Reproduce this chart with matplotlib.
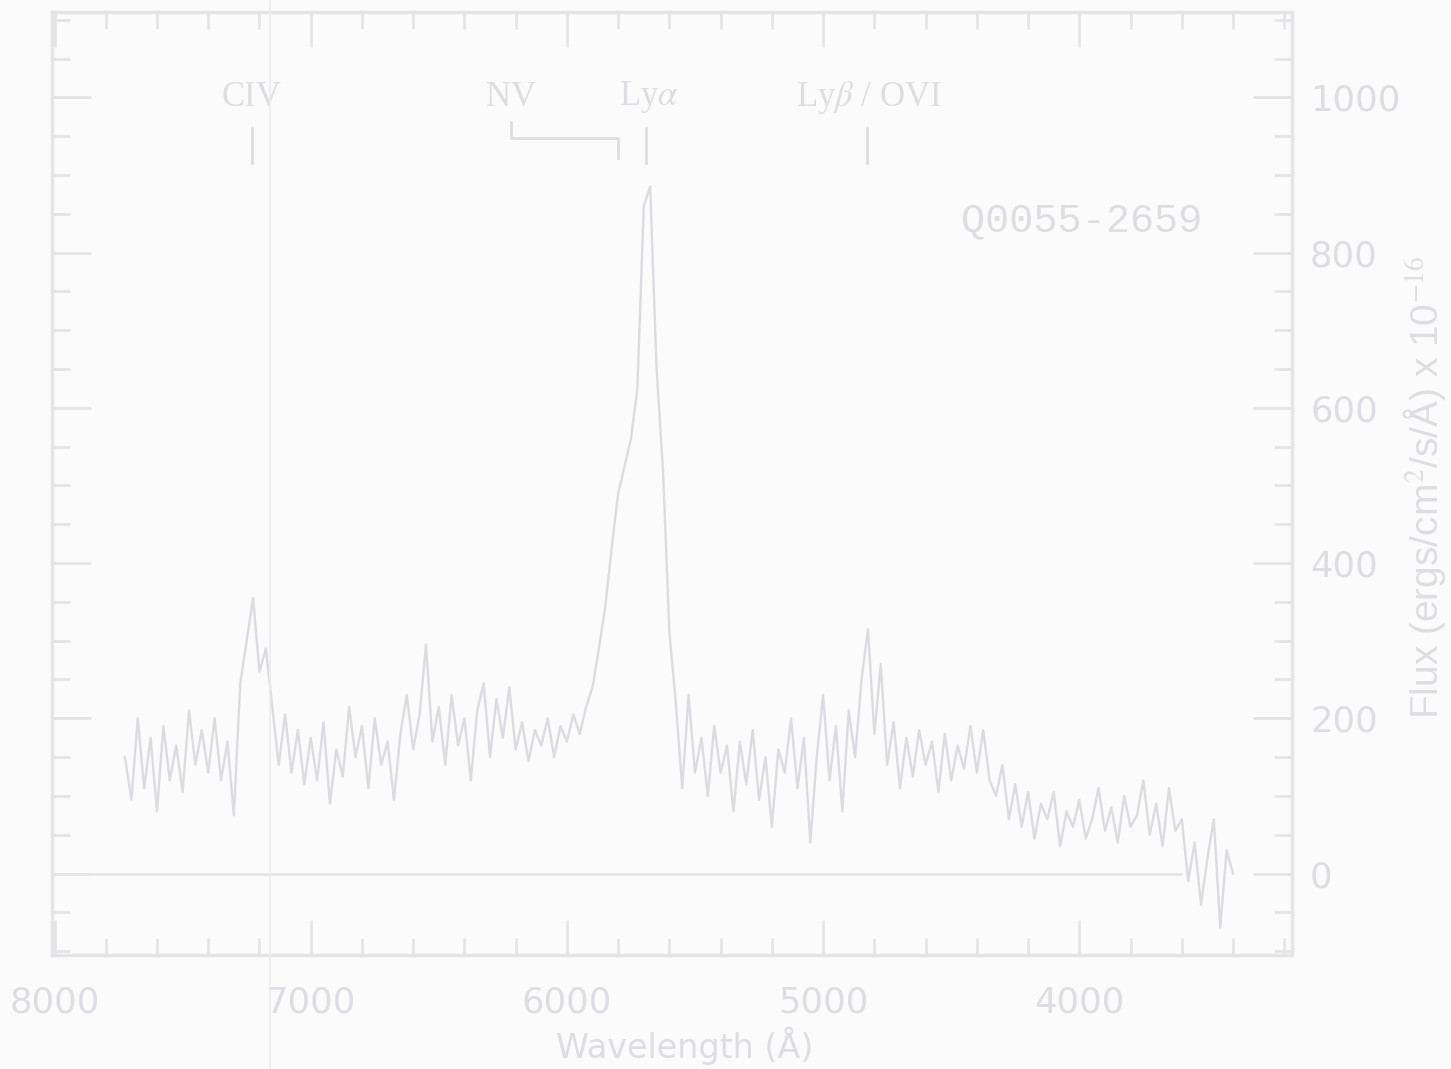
import numpy as np
import matplotlib
matplotlib.use("Agg")
from matplotlib import pyplot as plt
from matplotlib.lines import Line2D
from matplotlib.ticker import MultipleLocator

# Spectrum of Q0055-2659 (wavelength in A, flux x 1e-16)
wave = np.arange(7725, 3399, -25)
flux = [
    150, 95, 200, 110, 175, 80, 190, 120, 165, 105,
    210, 140, 185, 130, 200, 120, 170, 75, 245, 300,
    355, 260, 290, 215, 140, 205, 130, 185, 115, 175,
    120, 195, 90, 160, 125, 215, 150, 190, 110, 200,
    140, 170, 95, 180, 230, 160, 205, 295, 170, 215,
    140, 230, 165, 200, 120, 210, 245, 150, 225, 175,
    240, 160, 195, 145, 185, 165, 200, 150, 190, 170,
    205, 180, 215, 240, 290, 345, 420, 490, 525, 560,
    625, 860, 885, 650, 520, 310, 220, 110, 230, 130,
    175, 100, 190, 130, 165, 80, 170, 115, 185, 95,
    150, 60, 160, 130, 200, 110, 175, 40, 150, 230,
    120, 190, 80, 210, 150, 250, 315, 180, 270, 140,
    195, 110, 175, 125, 185, 140, 170, 105, 180, 120,
    165, 135, 190, 130, 185, 120, 100, 140, 70, 115,
    60, 105, 45, 90, 70, 105, 35, 80, 60, 95,
    45, 70, 110, 55, 85, 40, 100, 60, 75, 120,
    50, 90, 35, 110, 55, 70, -10, 40, -40, 20,
    70, -70, 30, 0,
]

# emission line markers: name, marker x
line_names = ["CIV", "NV", r"Ly$\alpha$", r"Ly$\beta$ / OVI"]
line_label_x = [7230, 6218, 5681, 4820]
line_mark_x = [7230, None, 5690, 4830]
nv_bracket = [6220, 5800]

object_name = "Q0055-2659"

ink = "#dcdce0"
axis_ink = "#e5e5e8"
text_ink = "#dedee2"

plt.rcParams["mathtext.fontset"] = "stix"

fig = plt.figure(figsize=(14.51, 10.69), dpi=100, facecolor="#fbfbfb")
ax = fig.add_axes([0.0358, 0.1066, 0.8546, 0.8822])
ax.set_facecolor("#fbfbfb")

ax.plot(wave, flux, color=ink, lw=1.7)
ax.hlines(0, 3600, 8000, color=axis_ink, lw=2)

ax.set_xlim(8010, 3170)
ax.set_ylim(-105, 1110)

ax.set_xticks([8000, 7000, 6000, 5000, 4000])
ax.xaxis.set_minor_locator(MultipleLocator(200))
ax.yaxis.set_major_locator(MultipleLocator(200))
ax.yaxis.set_minor_locator(MultipleLocator(50))

ax.tick_params(which="both", direction="in", top=True, right=True,
               left=True, bottom=True, colors=axis_ink, width=2,
               labelcolor=text_ink, labelsize=25.5)
ax.tick_params(axis="x", which="major", length=25, pad=22)
ax.tick_params(axis="x", which="minor", length=12)
ax.tick_params(axis="y", which="major", length=28)
ax.tick_params(axis="y", which="minor", length=13)
ax.tick_params(axis="y", labelleft=False, labelright=True, pad=13)
for tl in ax.get_xticklabels() + ax.get_yticklabels():
    tl.set_fontfamily("DejaVu Sans")

for s in ax.spines.values():
    s.set_color(axis_ink)
    s.set_linewidth(2.5)

fig.text(685 / 1451, 1 - 1046 / 1069, "Wavelength (Å)", fontsize=24,
         color=text_ink, family="DejaVu Sans", ha="center", va="center")

fig.text(1424 / 1451, 1 - 487 / 1069, "Flux (ergs/cm$^2$/s/Å) x 10$^{-16}$",
         rotation=90, ha="center", va="center", fontsize=28,
         color=text_ink, family="Liberation Sans")

# line identifications
for name, lx in zip(line_names, line_label_x):
    ax.text(lx, 1000, name, fontsize=25, color=text_ink,
            family="Liberation Serif", ha="center", va="center")
for mx in line_mark_x:
    if mx is not None:
        ax.plot([mx, mx], [915, 960], color=text_ink, lw=2)
ax.plot([nv_bracket[0], nv_bracket[0], nv_bracket[1], nv_bracket[1]],
        [968, 948, 948, 922], color=text_ink, lw=2)

ax.text(3990, 842, object_name, fontsize=29, color=text_ink,
        family="Liberation Mono", ha="center", va="center")

# fold line of the scanned page
fig.add_artist(Line2D([0.186, 0.186], [0, 1], transform=fig.transFigure,
                      color="#ececee", lw=1.2))

fig.savefig("out.png", dpi=100, facecolor=fig.get_facecolor())
